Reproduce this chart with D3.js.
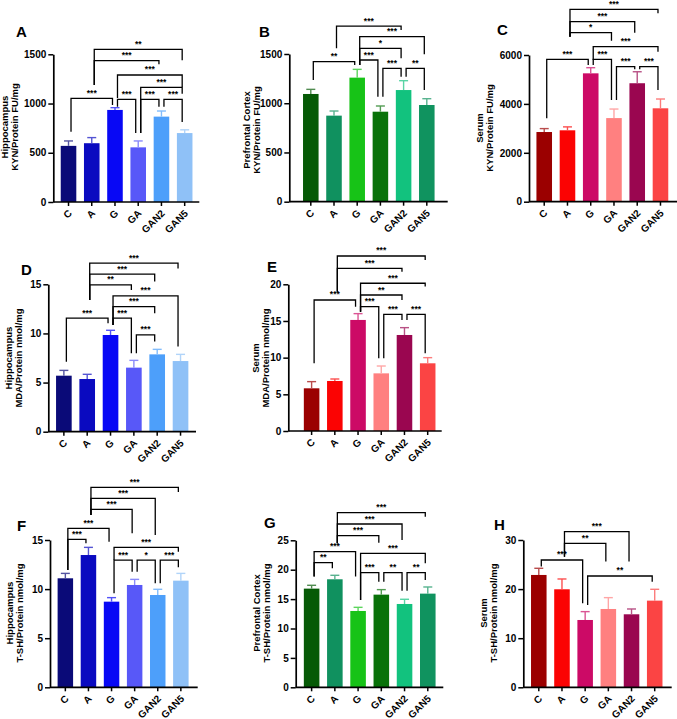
<!DOCTYPE html>
<html>
<head>
<meta charset="utf-8">
<script src="https://cdn.jsdelivr.net/npm/d3@7"></script>
<style>
  body { margin: 0; background: #fff; }
  svg { display: block; font-family: "Liberation Sans", Arial, sans-serif; }
</style>
</head>
<body>
<svg id="fig" width="677" height="719"></svg>
<script>
const groups = ["C", "A", "G", "GA", "GAN2", "GAN5"];

// group colours
const blues  = ["#0a0a78", "#0a0ac0", "#0808f5", "#5858f8", "#4d9ffa", "#8fc1f7"];
const greens = ["#065a06", "#10915f", "#17c317", "#097209", "#12c27e", "#10935f"];
const reds   = ["#9b0000", "#fb0303", "#cc0a66", "#ff8080", "#9a0650", "#fb4444"];

// A - hippocampus KYN
const hippoKynMean = [570, 597, 935, 555, 867, 700];
const hippoKynSem  = [50, 57, 23, 65, 57, 33];
// B - prefrontal cortex KYN
const pfcKynMean = [1094, 874, 1260, 914, 1134, 982];
const pfcKynSem  = [47, 47, 84, 58, 95, 64];
// C - serum KYN
const serumKynMean = [2850, 2920, 5250, 3420, 4845, 3820];
const serumKynSem  = [140, 140, 230, 370, 470, 380];
// D - hippocampus MDA
const hippoMdaMean = [5.70, 5.36, 9.84, 6.52, 7.87, 7.19];
const hippoMdaSem  = [0.54, 0.48, 0.48, 0.74, 0.51, 0.68];
// E - serum MDA
const serumMdaMean = [5.82, 6.82, 15.14, 7.86, 13.09, 9.23];
const serumMdaSem  = [0.91, 0.27, 0.86, 1.0, 1.0, 0.77];
// F - hippocampus T-SH
const hippoTshMean = [11.10, 13.47, 8.72, 10.42, 9.40, 10.86];
const hippoTshSem  = [0.50, 0.78, 0.41, 0.57, 0.58, 0.74];
// G - prefrontal cortex T-SH
const pfcTshMean = [16.78, 18.37, 12.98, 15.76, 14.17, 15.93];
const pfcTshSem  = [0.57, 0.68, 0.62, 0.85, 0.80, 1.13];
// H - serum T-SH
const serumTshMean = [22.88, 19.96, 13.71, 15.95, 14.87, 17.65];
const serumTshSem  = [1.36, 2.10, 1.70, 2.31, 1.08, 2.31];

// comparisons: [from, to, bracket level, leg end at "from", leg end at "to", stars]
const hippoKynSig = [
  [1, 5, 1550, 1188, 1440, "**"],
  [1, 4, 1435, 1188, 1400, "***"],
  [2, 5, 1290, 1056, 1168, "***"],
  [3, 5, 1165, 700, 1100, "***"],
  [0, 2, 1053, 714, 985, "***"],
  [2, 3, 1043, 968, 700, "***"],
  [3, 4, 1043, 700, 968, "***"],
  [4, 5, 1043, 968, 812, "***"]
];
const pfcKynSig = [
  [1, 4, 1784, 1558, 1744, "***"],
  [2, 5, 1676, 1388, 1497, "***"],
  [2, 4, 1558, 1388, 1456, "*"],
  [2, 3, 1439, 1388, 1066, "***"],
  [0, 2, 1422, 1236, 1388, "**"],
  [3, 4, 1355, 1066, 1270, "***"],
  [4, 5, 1355, 1270, 1134, "**"]
];
const serumKynSig = [
  [1, 5, 7868, 6748, 7705, "***"],
  [1, 4, 7362, 6748, 6912, "***"],
  [1, 3, 6912, 6748, 6585, "*"],
  [2, 5, 6339, 5796, 6135, "***"],
  [0, 2, 5824, 3411, 5591, "***"],
  [2, 3, 5824, 5591, 4160, "***"],
  [3, 4, 5522, 4160, 5415, "***"],
  [4, 5, 5522, 5415, 4568, "***"]
];
const hippoMdaSig = [
  [1, 5, 17.15, 13.41, 16.6, "***"],
  [1, 4, 16.03, 13.41, 15.28, "***"],
  [1, 3, 14.94, 13.41, 14.43, "**"],
  [2, 5, 13.82, 10.87, 8.66, "***"],
  [2, 4, 12.73, 10.87, 12.06, "***"],
  [0, 2, 11.55, 7.13, 11.04, "***"],
  [2, 3, 11.55, 10.87, 7.98, "***"],
  [3, 4, 9.85, 7.98, 9.17, "***"]
];
const serumMdaSig = [
  [1, 5, 23.86, 18.99, 23.3, "***"],
  [1, 4, 22.18, 18.99, 21.72, "***"],
  [2, 5, 20.14, 16.27, 19.7, "***"],
  [2, 4, 18.54, 16.27, 17.86, "**"],
  [0, 2, 17.86, 9.23, 16.95, "***"],
  [2, 3, 16.95, 16.27, 9.91, "***"],
  [3, 4, 15.91, 9.91, 15.13, "***"],
  [4, 5, 15.91, 15.13, 10.59, "***"]
];
const hippoTshSig = [
  [1, 5, 20.36, 17.54, 19.9, "***"],
  [1, 4, 19.24, 17.54, 15.5, "***"],
  [1, 3, 18.12, 17.54, 15.68, "***"],
  [0, 2, 16.19, 11.94, 14.83, "***"],
  [0, 1, 15.07, 11.94, 14.66, "***"],
  [2, 5, 14.25, 12.96, 13.81, "***"],
  [2, 3, 12.96, 9.57, 11.77, "***"],
  [3, 4, 12.96, 11.77, 10.59, "*"],
  [4, 5, 12.96, 10.59, 12.22, "***"]
];
const pfcTshSig = [
  [1, 5, 29.7, 24.5, 29.0, "***"],
  [1, 4, 27.77, 24.5, 25.05, "***"],
  [1, 3, 25.78, 24.5, 24.6, "***"],
  [0, 2, 23.06, 18.85, 18.85, "***"],
  [0, 1, 21.19, 18.85, 20.24, "**"],
  [2, 5, 22.78, 14.85, 21.09, "***"],
  [2, 3, 19.49, 14.85, 17.96, "***"],
  [3, 4, 19.49, 17.96, 16.43, "**"],
  [4, 5, 19.49, 16.43, 18.25, "**"]
];
const serumTshSig = [
  [1, 4, 31.7, 26.6, 25.6, "***"],
  [1, 3, 29.33, 26.6, 25.6, "**"],
  [0, 2, 25.93, 24.58, 17.1, "***"],
  [2, 5, 22.67, 16.77, 21.52, "**"]
];

const panels = [
  { letter: "A", lx: 16, ly: 37, left: 53.3, right: 199.3, top: 54.3, bottom: 202, bandL: 56.9, bandR: 196.3,
    yMax: 1500, ticks: [0, 500, 1000, 1500], title: ["Hippocampus", "KYN/Protein FU/mg"], tx: 5, ty: 127,
    mean: hippoKynMean, sem: hippoKynSem, sig: hippoKynSig, colors: blues },
  { letter: "B", lx: 259, ly: 37, left: 289.3, right: 447.7, top: 54, bottom: 201.7, bandL: 299.2, bandR: 438.4,
    yMax: 1500, ticks: [0, 500, 1000, 1500], title: ["Prefrontal Cortex", "KYN/Protein FU/mg"], tx: 247, ty: 130,
    mean: pfcKynMean, sem: pfcKynSem, sig: pfcKynSig, colors: greens },
  { letter: "C", lx: 497, ly: 35, left: 529, right: 677, top: 55, bottom: 201.7, bandL: 532.6, bandR: 672.1,
    yMax: 6000, ticks: [0, 2000, 4000, 6000], title: ["Serum", "KYN/Protein FU/mg"], tx: 480, ty: 128,
    mean: serumKynMean, sem: serumKynSem, sig: serumKynSig, colors: reds },
  { letter: "D", lx: 21, ly: 275, left: 48.3, right: 196, top: 284.3, bottom: 431.7, bandL: 52.2, bandR: 192.2,
    yMax: 15, ticks: [0, 5, 10, 15], title: ["Hippocampus", "MDA/Protein nmol/mg"], tx: 9, ty: 358,
    mean: hippoMdaMean, sem: hippoMdaSem, sig: hippoMdaSig, colors: blues },
  { letter: "E", lx: 267, ly: 272, left: 288.3, right: 441.7, top: 284.3, bottom: 431, bandL: 300, bandR: 439.3,
    yMax: 20, ticks: [0, 5, 10, 15, 20], title: ["Serum", "MDA/Protein nmol/mg"], tx: 256, ty: 358,
    mean: serumMdaMean, sem: serumMdaSem, sig: serumMdaSig, colors: reds },
  { letter: "F", lx: 17, ly: 531, left: 50, right: 197.7, top: 540, bottom: 687.3, bandL: 53.8, bandR: 192.4,
    yMax: 15, ticks: [0, 5, 10, 15], title: ["Hippocampus", "T-SH/Protein nmol/mg"], tx: 10, ty: 613,
    mean: hippoTshMean, sem: hippoTshSem, sig: hippoTshSig, colors: blues },
  { letter: "G", lx: 264, ly: 528, left: 295.7, right: 443.3, top: 540.3, bottom: 687.3, bandL: 300, bandR: 439.4,
    yMax: 25, ticks: [0, 5, 10, 15, 20, 25], title: ["Prefrontal Cortex", "T-SH/Protein nmol/mg"], tx: 257, ty: 613,
    mean: pfcTshMean, sem: pfcTshSem, sig: pfcTshSig, colors: greens },
  { letter: "H", lx: 494, ly: 530, left: 523.3, right: 671.7, top: 540, bottom: 687.3, bandL: 527.2, bandR: 666.3,
    yMax: 30, ticks: [0, 10, 20, 30], title: ["Serum", "T-SH/Protein nmol/mg"], tx: 484, ty: 613,
    mean: serumTshMean, sem: serumTshSem, sig: serumTshSig, colors: reds }
];

const svg = d3.select("#fig");

function drawPanel(p) {
  const g = svg.append("g").attr("class", "panel-" + p.letter);

  const x = d3.scaleBand()
    .domain(groups)
    .range([p.bandL, p.bandR])
    .paddingInner(0.33)
    .paddingOuter(0.165);
  const y = d3.scaleLinear()
    .domain([0, p.yMax])
    .range([p.bottom, p.top]);
  const cx = i => x(groups[i]) + x.bandwidth() / 2;
  const legOff = 2.5;

  // bars
  g.selectAll("rect.bar")
    .data(p.mean)
    .join("rect")
    .attr("class", "bar")
    .attr("x", (d, i) => x(groups[i]))
    .attr("y", d => y(d))
    .attr("width", x.bandwidth())
    .attr("height", d => y(0) - y(d))
    .attr("fill", (d, i) => p.colors[i]);

  // error bars (mean + SEM)
  const errCol = i => d3.interpolateRgb(p.colors[i], "#ffffff")(0.3);
  const eb = g.selectAll("g.err")
    .data(p.mean)
    .join("g")
    .attr("class", "err")
    .attr("stroke", (d, i) => errCol(i))
    .attr("stroke-width", 1.4);
  eb.append("line")
    .attr("x1", (d, i) => cx(i)).attr("x2", (d, i) => cx(i))
    .attr("y1", d => y(d)).attr("y2", (d, i) => y(d + p.sem[i]));
  eb.append("line")
    .attr("x1", (d, i) => cx(i) - 4.5).attr("x2", (d, i) => cx(i) + 4.5)
    .attr("y1", (d, i) => y(d + p.sem[i])).attr("y2", (d, i) => y(d + p.sem[i]));

  // y axis
  const yAxis = d3.axisLeft(y)
    .tickValues(p.ticks)
    .tickFormat(d3.format("d"))
    .tickSize(5).tickPadding(2).tickSizeOuter(0);
  const ya = g.append("g")
    .attr("transform", `translate(${p.left},0)`)
    .call(yAxis);
  ya.select(".domain").attr("stroke-width", 1.7);
  ya.selectAll(".tick line").attr("stroke-width", 1.5);
  ya.selectAll(".tick text")
    .attr("font-size", 10)
    .attr("font-weight", "bold")
    .attr("font-family", null)
    .attr("fill", "#000");

  // x axis
  const xAxis = d3.axisBottom(x).tickSize(4).tickSizeOuter(0).tickPadding(0);
  const xa = g.append("g")
    .attr("transform", `translate(0,${p.bottom})`)
    .call(xAxis);
  xa.select(".domain").remove();
  xa.selectAll(".tick line").attr("stroke-width", 1.5);
  xa.selectAll(".tick text")
    .attr("font-size", 10)
    .attr("font-weight", "bold")
    .attr("font-family", null)
    .attr("fill", "#000")
    .attr("text-anchor", "end")
    .attr("dy", null)
    .attr("y", 0)
    .attr("transform", "translate(4,12) rotate(-45)");
  g.append("line")
    .attr("x1", p.left).attr("x2", p.right)
    .attr("y1", p.bottom).attr("y2", p.bottom)
    .attr("stroke", "#000")
    .attr("stroke-width", 1.7);

  // y title
  g.append("text")
    .attr("transform", `translate(${p.tx},${p.ty}) rotate(-90)`)
    .attr("text-anchor", "middle")
    .attr("font-size", 9.5)
    .attr("font-weight", "bold")
    .selectAll("tspan")
    .data(p.title)
    .join("tspan")
    .attr("x", 0)
    .attr("dy", (d, i) => i === 0 ? "0.35em" : "1.05em")
    .text(d => d);

  // significance brackets
  p.sig.forEach(([a, b, lvl, la, lb, stars]) => {
    const xa1 = cx(a) + legOff;
    const xb1 = cx(b) - legOff;
    g.append("path")
      .attr("d", `M${xa1},${y(la)}V${y(lvl)}H${xb1}V${y(lb)}`)
      .attr("fill", "none")
      .attr("stroke", "#000")
      .attr("stroke-width", 1.3);
    g.append("text")
      .attr("x", (xa1 + xb1) / 2)
      .attr("y", y(lvl) - 2.5)
      .attr("text-anchor", "middle")
      .attr("font-size", 8.5)
      .attr("font-weight", "bold")
      .text(stars);
  });

  // panel letter
  g.append("text")
    .attr("x", p.lx)
    .attr("y", p.ly)
    .attr("font-size", 15)
    .attr("font-weight", "bold")
    .text(p.letter);
}

panels.forEach(drawPanel);
</script>
</body>
</html>
